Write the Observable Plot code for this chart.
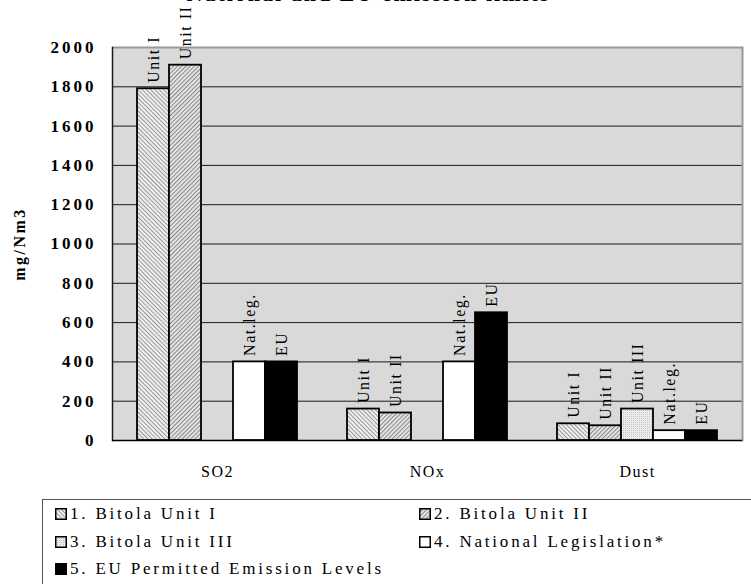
<!DOCTYPE html>
<html>
<head>
<meta charset="utf-8">
<script src="https://cdn.jsdelivr.net/npm/d3@7"></script>
<script src="https://cdn.jsdelivr.net/npm/@observablehq/plot@0.6"></script>
<style>
  html, body { margin: 0; padding: 0; background: #fff; }
  body { width: 751px; height: 584px; overflow: hidden; position: relative;
         font-family: "Liberation Serif", "Times New Roman", serif; color: #000; }
  #title { position: absolute; left: 0; width: 737px; top: -19px; text-align: center;
           font-weight: bold; font-size: 22px; letter-spacing: 2px; line-height: normal; white-space: nowrap; }
  #chart { position: absolute; left: 0; top: 0; }
  #chart svg text { font-family: "Liberation Serif", "Times New Roman", serif; }
  #legend { position: absolute; left: 42px; top: 499px; width: 740px; height: 110px;
            border: 1px solid #555; box-sizing: border-box; }
  .item { position: absolute; height: 20px; display: flex; align-items: center;
          font-size: 17px; letter-spacing: 2.8px; white-space: nowrap; }
  .item svg { margin-right: 3px; }
  #defs { position: absolute; width: 0; height: 0; }
</style>
</head>
<body>
<svg id="defs" width="0" height="0" aria-hidden="true">
  <defs>
    <pattern id="hatchDown" patternUnits="userSpaceOnUse" width="3" height="3" patternTransform="rotate(-45)">
      <rect width="3" height="3" fill="#efefef"></rect>
      <rect width="1" height="3" fill="#9a9a9a"></rect>
    </pattern>
    <pattern id="hatchUp" patternUnits="userSpaceOnUse" width="3" height="3" patternTransform="rotate(45)">
      <rect width="3" height="3" fill="#e8e8e8"></rect>
      <rect width="1.1" height="3" fill="#8a8a8a"></rect>
    </pattern>
    <pattern id="dots" patternUnits="userSpaceOnUse" width="2" height="2">
      <rect width="2" height="2" fill="#ececec"></rect>
      <rect width="1" height="1" fill="#c6c6c6"></rect>
    </pattern>
  </defs>
</svg>
<div id="title">National and EU emission limits</div>
<div id="chart"></div>
<div id="legend"></div>
<script>
// Pollutant groups along the x axis
const pollutants = ["SO2", "NOx", "Dust"];

// Series (one bar slot per series in every group)
const seriesKeys = ["u1", "u2", "u3", "nat", "eu"];
const seriesNames = ["1. Bitola Unit I", "2. Bitola Unit II", "3. Bitola Unit III",
                     "4. National Legislation*", "5. EU Permitted Emission Levels"];
const barLabels = ["Unit I", "Unit II", "Unit III", "Nat.leg.", "EU"];
const seriesFills = ["url(#hatchDown)", "url(#hatchUp)", "url(#dots)", "#ffffff", "#000000"];

// Emission values in mg/Nm3, per pollutant (SO2, NOx, Dust); null = no bar
const unit1 = [1790, 160, 85];
const unit2 = [1910, 140, 75];
const unit3 = [null, null, 160];
const natLeg = [400, 400, 50];
const euLimit = [400, 650, 50];

// Value axis ticks
const yTicks = [0, 200, 400, 600, 800, 1000, 1200, 1400, 1600, 1800, 2000];
const yLabel = "mg/Nm3";

const seriesValues = [unit1, unit2, unit3, natLeg, euLimit];
const rows = [];
pollutants.forEach((p, i) => {
  seriesKeys.forEach((s, j) => {
    const v = seriesValues[j][i];
    if (v != null) rows.push({pollutant: p, series: s, value: v, label: barLabels[j], fill: seriesFills[j]});
  });
});

const chart = Plot.plot({
  width: 751,
  height: 490,
  marginLeft: 111,
  marginRight: 8,
  marginTop: 47,
  marginBottom: 50,
  style: {background: "transparent", overflow: "visible", color: "#000"},
  fx: {domain: pollutants, paddingInner: 0, paddingOuter: 0, label: null},
  x: {domain: seriesKeys, paddingInner: 0, paddingOuter: 0.72, axis: null},
  y: {domain: [0, 2000], axis: null},
  color: {type: "identity"},
  marks: [
    // plot area background spanning all groups
    Plot.frame({fill: "#d9d9d9", stroke: "none", facet: "super"}),
    // horizontal gridlines (facets tile the full width, so these join up)
    Plot.ruleY(yTicks.slice(1, -1), {stroke: "#1a1a1a", strokeWidth: 1}),
    Plot.ruleY([2000], {stroke: "#9a9a9a", strokeWidth: 2}),
    Plot.frame({anchor: "right", stroke: "#9a9a9a", strokeWidth: 2, facet: "super"}),
    Plot.frame({anchor: "left", stroke: "#1a1a1a", strokeWidth: 1.5, facet: "super"}),
    Plot.ruleY([0], {stroke: "#000", strokeWidth: 1.5}),
    Plot.barY(rows, {fx: "pollutant", x: "series", y: "value", fill: "fill",
                     stroke: "#000", strokeWidth: 1.8, inset: 0}),
    Plot.text(rows, {fx: "pollutant", x: "series", y: "value", text: "label",
                     rotate: -90, textAnchor: "start", dy: -6, fontSize: 16, fill: "#000"}),
    Plot.axisY({ticks: yTicks, tickFormat: d => String(d), tickSize: 0, tickPadding: 16,
                fontSize: 17, fontWeight: "bold",
                label: yLabel, labelAnchor: "center", labelOffset: 99, labelArrow: "none"}),
    Plot.axisFx({anchor: "bottom", tickSize: 0, tickPadding: 25, fontSize: 16, label: null})
  ]
});
document.getElementById("chart").appendChild(chart);

// Type styling for the serif text
const sel = d3.select(chart);
sel.selectAll('g[aria-label="y-axis tick label"]')
  .style("font-weight", "bold").style("font-size", "17px");
sel.selectAll('g[aria-label="y-axis tick label"] text').style("letter-spacing", "3px");
sel.selectAll('g[aria-label="y-axis label"]')
  .style("font-weight", "bold").style("font-size", "16px");
sel.selectAll('g[aria-label="y-axis label"] text').style("letter-spacing", "2.5px");
sel.selectAll('g[aria-label="fx-axis tick label"]').style("font-size", "16px");
sel.selectAll('g[aria-label="fx-axis tick label"] text').style("letter-spacing", "1.5px");
sel.selectAll('g[aria-label="text"] text').style("letter-spacing", "1.5px");

// Legend box with two columns of swatches
const legend = document.getElementById("legend");
const legendPos = [[12, 4], [376, 4], [12, 32], [376, 32], [12, 59]];
seriesNames.forEach((name, j) => {
  const item = document.createElement("div");
  item.className = "item";
  item.style.left = legendPos[j][0] + "px";
  item.style.top = legendPos[j][1] + "px";
  item.innerHTML = `<svg width="12" height="12"><rect x="0.75" y="0.75" width="10.5" height="10.5" fill="${seriesFills[j]}" stroke="#000" stroke-width="1.5"></rect></svg><span>${name}</span>`;
  legend.appendChild(item);
});
</script>
</body>
</html>
